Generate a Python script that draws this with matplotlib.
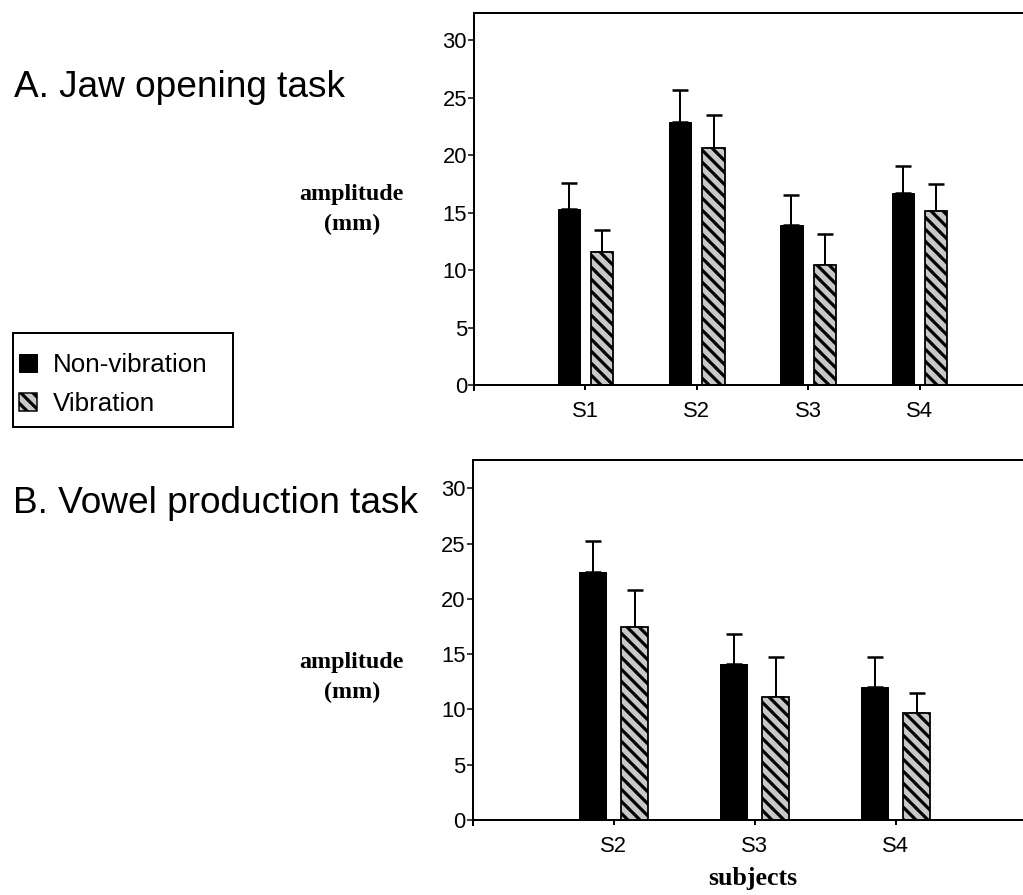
import matplotlib
matplotlib.use("Agg")
import matplotlib.pyplot as plt
from matplotlib.patches import Patch, Rectangle
import numpy as np

# ---- data ----
categories_A = ["S1", "S2", "S3", "S4"]
nonvib_A = [15.3, 22.9, 13.9, 16.7]
nonvib_A_err = [2.3, 2.75, 2.65, 2.4]
vib_A = [11.6, 20.6, 10.4, 15.1]
vib_A_err = [1.9, 2.9, 2.7, 2.4]

categories_B = ["S2", "S3", "S4"]
nonvib_B = [22.4, 14.1, 12.0]
nonvib_B_err = [2.8, 2.75, 2.7]
vib_B = [17.5, 11.15, 9.65]
vib_B_err = [3.3, 3.55, 1.8]

yticks = [0, 5, 10, 15, 20, 25, 30]

# ---- figure ----
DPI = 72
W, H = 1023, 895
plt.rcParams["hatch.linewidth"] = 3.2
fig = plt.figure(figsize=(W / DPI, H / DPI), dpi=DPI)

NARROW = ["Liberation Sans Narrow", "Liberation Sans", "DejaVu Sans"]
SANS = ["Liberation Sans", "DejaVu Sans"]
SERIF = ["Liberation Serif", "DejaVu Serif"]
GRAY = "#c8c8c8"
HATCH = "\\\\"


def rect(left, top, right, bottom):
    return [left / W, 1 - bottom / H, (right - left) / W, (bottom - top) / H]


def draw_panel(ax, cats, nv, nv_err, v, v_err, ymax, width):
    ax.spines["right"].set_visible(False)
    ax.spines["bottom"].set_position(("data", 0))
    for s in ["left", "top", "bottom"]:
        ax.spines[s].set_linewidth(2)
    x = np.arange(1, len(cats) + 1)
    off = 0.15
    ax.bar(x - off, nv, width, color="black", edgecolor="black", linewidth=1.0, zorder=2)
    ax.bar(x + off, v, width, color=GRAY, edgecolor="black", linewidth=1.8,
           hatch=HATCH, zorder=2)
    ax.errorbar(x - off, nv, yerr=[np.zeros(len(nv)), nv_err], fmt="none",
                ecolor="black", elinewidth=2, capsize=8, capthick=2.5, zorder=1)
    ax.errorbar(x + off, v, yerr=[np.zeros(len(v)), v_err], fmt="none",
                ecolor="black", elinewidth=2, capsize=8, capthick=2.5, zorder=1)
    ax.set_xlim(0, len(cats) + 1)
    ax.set_ylim(-0.45, ymax)
    ax.set_xticks(x)
    ax.set_xticklabels(cats, fontfamily=NARROW, fontsize=22)
    ax.set_yticks(yticks)
    ax.set_yticklabels([str(t) for t in yticks], fontfamily=NARROW, fontsize=22)
    ax.tick_params(axis="x", direction="out", length=5, width=2, pad=11)
    ax.tick_params(axis="y", direction="out", length=6, width=1.5, pad=1)


# top panel
scaleA = (385 - 12.7) / 32.4
axA = fig.add_axes(rect(474, 12.7, 474 + 5 * 111.4, 385 + 0.45 * scaleA))
draw_panel(axA, categories_A, nonvib_A, nonvib_A_err, vib_A, vib_A_err, 32.4, 0.2)

# bottom panel
scaleB = (820 - 460) / 32.56
axB = fig.add_axes(rect(472.7, 460, 472.7 + 4 * 141, 820 + 0.45 * scaleB))
draw_panel(axB, categories_B, nonvib_B, nonvib_B_err, vib_B, vib_B_err, 32.56, 0.19)


def ftext(x, y, s, **kw):
    fig.text(x / W, 1 - y / H, s, **kw)


# titles
ftext(14, 97, "A. Jaw opening task", fontfamily=SANS, fontsize=37, va="baseline", ha="left")
ftext(13, 513, "B. Vowel production task", fontfamily=SANS, fontsize=37, va="baseline", ha="left")

# y labels
for yb in (200, 668):
    ftext(351, yb, "amplitude", fontfamily=SERIF, fontweight="bold", fontsize=24,
          va="baseline", ha="center")
    ftext(352, yb + 30, "(mm)", fontfamily=SERIF, fontweight="bold", fontsize=24,
          va="baseline", ha="center")

# x label
ftext(753, 885, "subjects", fontfamily=SERIF, fontweight="bold", fontsize=26,
      va="baseline", ha="center")

# legend (frame drawn as a separate box)
fig.patches.append(Rectangle((13 / W, 1 - 427 / H), 220 / W, 94 / H,
                             transform=fig.transFigure, facecolor="white",
                             edgecolor="black", linewidth=2, zorder=0))
handles = [
    Patch(facecolor="black", edgecolor="black", label="Non-vibration"),
    Patch(facecolor=GRAY, edgecolor="black", hatch=HATCH, linewidth=1.5, label="Vibration"),
]
leg = fig.legend(handles=handles, loc="upper left",
                 bbox_to_anchor=(19 / W, 1 - 353 / H),
                 prop={"family": SANS, "size": 26},
                 frameon=False,
                 handlelength=0.7, handleheight=0.72, handletextpad=0.62,
                 labelspacing=0.58, borderpad=0, borderaxespad=0)

fig.savefig("out.png", dpi=DPI, facecolor="white")
